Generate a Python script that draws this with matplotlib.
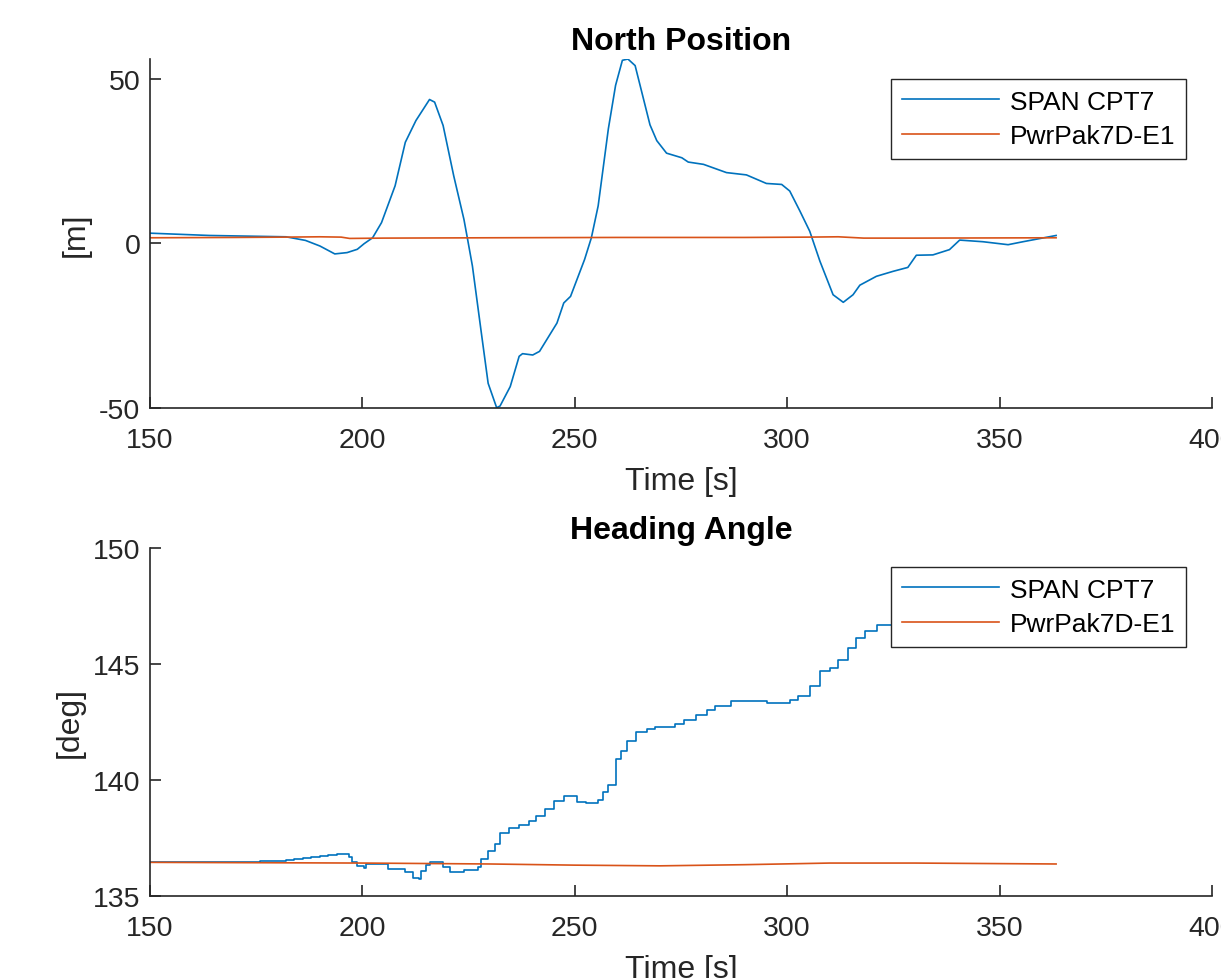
import matplotlib

matplotlib.use("Agg")
import matplotlib.pyplot as plt

# North position [m] vs time [s]
north_span_t = [150, 164, 182, 186.6, 190, 193.5, 196.4, 198.8, 200.4, 202.4,
                204.5, 207.7, 210.1, 212.6, 215.8, 217, 219, 221.5, 223.9, 224.7,
                225.9, 228, 229.6, 231.6, 232.4, 234.8, 236.9, 237.7, 240.1, 241.7,
                245.8, 247.4, 249, 252.3, 253.9, 255.5, 257.9, 259.6, 261.2, 262.5,
                264.2, 267.7, 269.3, 271.6, 275.2, 276.7, 280.3, 285.7, 290.4, 295.1,
                298.7, 300.6, 303, 305.3, 307.7, 310.8, 313.2, 315.5, 317.1, 321,
                324.9, 328.4, 330.4, 334.3, 338.2, 340.6, 346.1, 352, 355.5, 363.3]
north_span = [3.1, 2.4, 2.0, 0.9, -0.8, -3.2, -2.8, -1.8, -0.1, 1.7,
              6.3, 17.5, 30.7, 37.3, 43.7, 42.9, 35.8, 20.5, 7.3, 1.7,
              -6.9, -27.2, -42.5, -49.9, -49.4, -43.5, -34.3, -33.5, -33.9, -32.8,
              -24.2, -18.1, -16.1, -4.9, 1.7, 11.4, 34.8, 48, 55.6, 56,
              54, 36, 31.2, 27.4, 26, 24.7, 24, 21.5, 20.8, 18.2,
              17.9, 15.9, 9.8, 3.7, -5.4, -15.6, -17.9, -15.6, -12.7, -10,
              -8.5, -7.3, -3.6, -3.5, -1.9, 1, 0.5, -0.4, 0.5, 2.4]
north_pwr_t = [150, 170, 182, 190, 195, 197, 205, 230, 260, 290, 305, 312, 318, 330, 363.3]
north_pwr = [1.7, 1.8, 1.9, 2.0, 1.9, 1.5, 1.6, 1.7, 1.8, 1.8, 1.9, 2.0, 1.6, 1.6, 1.7]

# Heading angle [deg] vs time [s]
head_span_t = [150, 176, 179, 182, 184, 186, 188, 190, 192, 194,
               195.5, 196.8, 197.6, 198.8, 200.4,
               200.8, 202.8, 206.1, 210.1, 211.8, 213.4, 213.8, 215, 215.8, 217.4,
               219, 220.7, 223.9, 227.1, 228, 229.6, 231.2, 232.4, 234.4, 236.9,
               239.3, 240.9, 242.9, 245, 247.4, 249, 250.6, 252.7, 255.5, 256.7,
               257.9, 259.6, 260.8, 262.4, 264.4, 266.9, 268.9, 271.7, 273.7, 275.6,
               278.5, 281.2, 283, 286.8, 290.5, 295.2, 300.7, 302.6, 305.4, 307.7,
               310, 311.9, 314.2, 316.1, 318.4, 321.2, 325, 335, 345, 355, 363.3]
head_span = [136.48, 136.49, 136.52, 136.56, 136.6, 136.64, 136.68, 136.72, 136.76, 136.8,
             136.8, 136.68, 136.48, 136.29, 136.22,
             136.4, 136.36, 136.18, 136.03, 135.79, 135.72, 136.07, 136.33, 136.46, 136.46,
             136.25, 136.03, 136.12, 136.26, 136.58, 136.93, 137.22, 137.72, 137.94, 138.08,
             138.22, 138.44, 138.77, 139.08, 139.33, 139.3, 139.05, 139.0, 139.15, 139.5,
             139.8, 140.9, 141.23, 141.7, 142.05, 142.2, 142.3, 142.3, 142.4, 142.6,
             142.8, 143.0, 143.2, 143.4, 143.4, 143.3, 143.43, 143.6, 144.04, 144.7,
             144.83, 145.19, 145.69, 146.1, 146.41, 146.67, 146.98, 147.6, 148.1, 148.5, 148.8]
head_pwr_t = [150, 200, 230, 250, 270, 290, 310, 330, 363.3]
head_pwr = [136.45, 136.42, 136.38, 136.33, 136.3, 136.35, 136.42, 136.42, 136.38]

labels = ["SPAN CPT7", "PwrPak7D-E1"]
x_ticks = [150, 200, 250, 300, 350, 400]

BLUE = "#0072BD"
ORANGE = "#D95319"
AXIS = "#262626"

plt.rcParams["font.family"] = ["Liberation Sans", "DejaVu Sans"]
plt.rcParams["axes.unicode_minus"] = False

W, H = 1221, 979
fig = plt.figure(figsize=(W / 100, H / 100), dpi=100)


def px_axes(left, top, right, bottom):
    return fig.add_axes([left / W, 1 - bottom / H, (right - left) / W, (bottom - top) / H])


def style(ax, title, ylabel, legend_top):
    ax.set_xlim(150, 400)
    ax.set_xticks(x_ticks)
    for side in ("top", "right"):
        ax.spines[side].set_visible(False)
    for side in ("left", "bottom"):
        ax.spines[side].set_color(AXIS)
        ax.spines[side].set_linewidth(1.2)
    ax.tick_params(direction="in", length=8, width=1.2, colors=AXIS, labelsize=20.5)
    ax.tick_params(axis="x", pad=14)
    ax.tick_params(axis="y", pad=7)
    ax.set_title(title, fontsize=23, fontweight="bold", pad=7)
    ax.set_xlabel("Time [s]", fontsize=23, color=AXIS, labelpad=9)
    ax.set_ylabel(ylabel, fontsize=23, color=AXIS, labelpad=6)
    leg = ax.legend(labels, loc="upper right", bbox_to_anchor=(1186 / W, 1 - legend_top / H),
                    bbox_transform=fig.transFigure, fontsize=19, frameon=True, fancybox=False,
                    framealpha=1, edgecolor=AXIS, handlelength=3.7, handletextpad=0.4,
                    borderpad=0.4, labelspacing=0.4, borderaxespad=0)
    leg.get_frame().set_linewidth(1.0)


ax1 = px_axes(150, 60, 1212, 409)
ax1.plot(north_span_t, north_span, color=BLUE, lw=1.2)
ax1.plot(north_pwr_t, north_pwr, color=ORANGE, lw=1.2)
ax1.set_ylim(-50, 56)
ax1.set_yticks([-50, 0, 50])
style(ax1, "North Position", "[m]", 80)

ax2 = px_axes(150, 549, 1212, 897)
ax2.plot(head_span_t, head_span, color=BLUE, lw=1.2, drawstyle="steps-post")
ax2.plot(head_pwr_t, head_pwr, color=ORANGE, lw=1.2)
ax2.set_ylim(135, 150)
ax2.set_yticks([135, 140, 145, 150])
style(ax2, "Heading Angle", "[deg]", 568)

fig.savefig("out.png", dpi=100, facecolor="white")
